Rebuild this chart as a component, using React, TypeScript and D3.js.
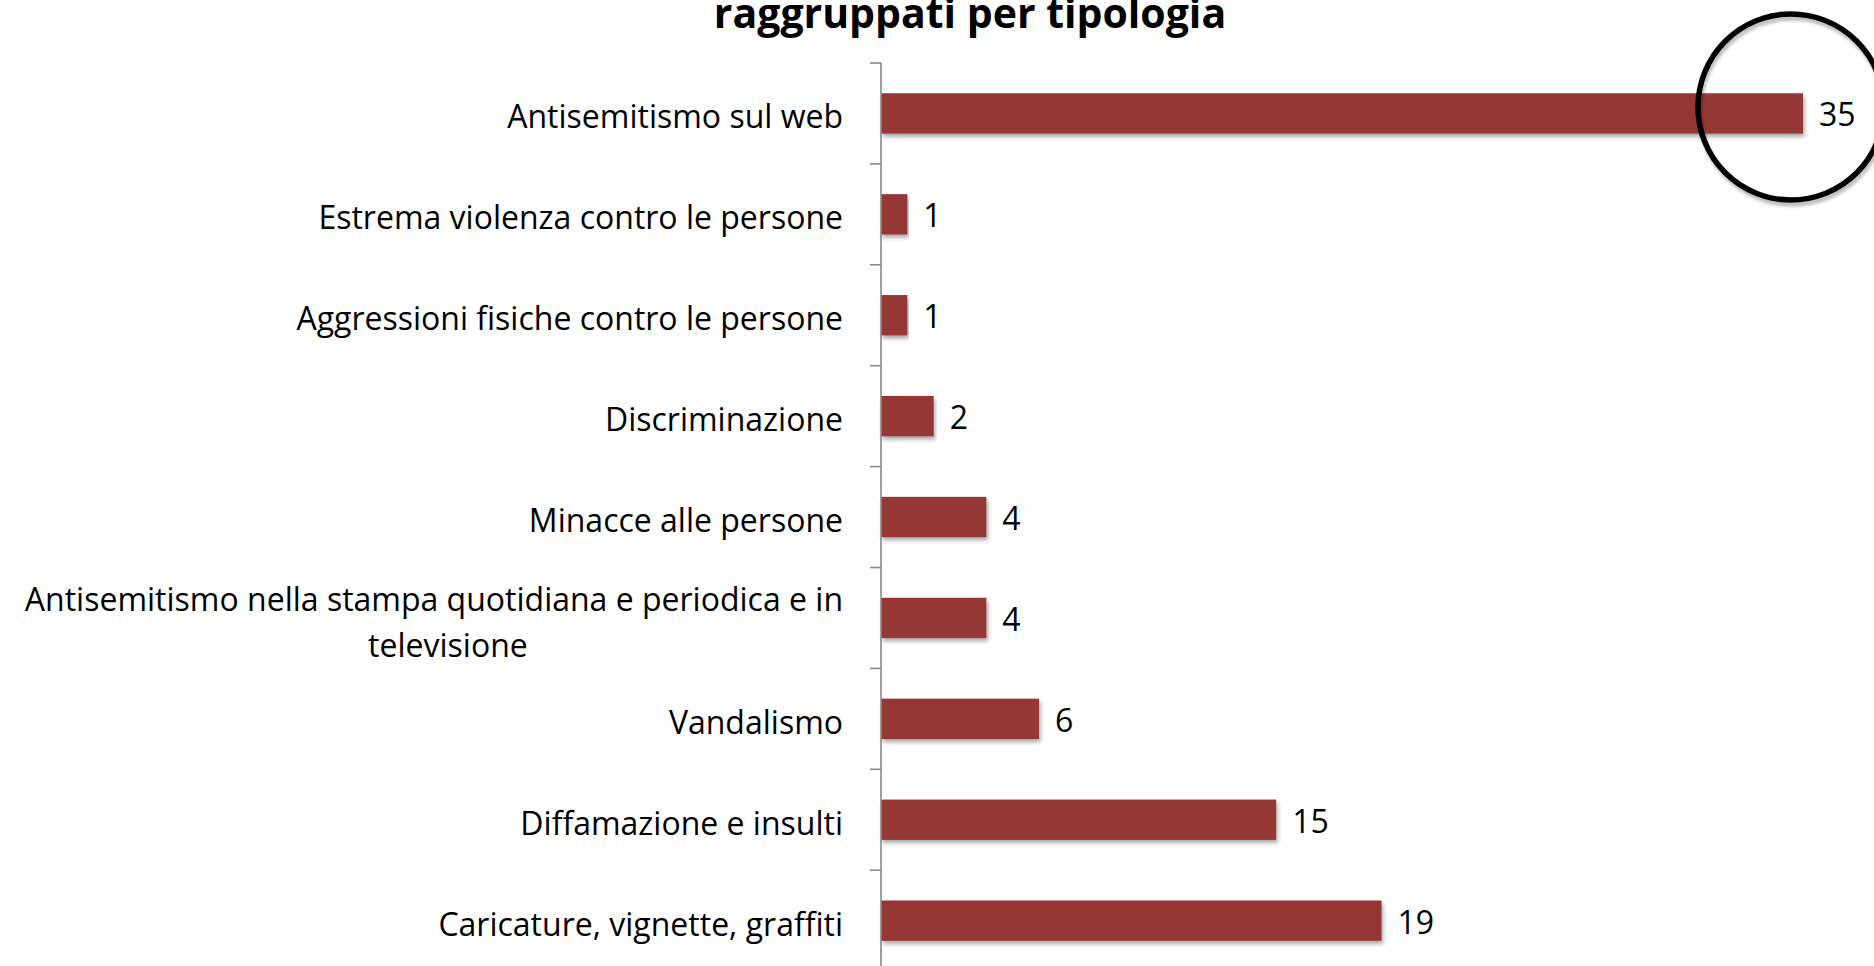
import React, { useEffect, useRef } from 'react';
import * as d3 from 'd3';

const categories = [
  'Antisemitismo sul web',
  'Estrema violenza contro le persone',
  'Aggressioni fisiche contro le persone',
  'Discriminazione',
  'Minacce alle persone',
  'Antisemitismo nella stampa quotidiana e periodica e in|televisione',
  'Vandalismo',
  'Diffamazione e insulti',
  'Caricature, vignette, graffiti',
];
const values = [35, 1, 1, 2, 4, 4, 6, 15, 19];
const titleLine = 'raggruppati per tipologia';

const W = 1874;
const H = 966;

const App: React.FC = () => {
  const ref = useRef<SVGSVGElement | null>(null);

  useEffect(() => {
    if (!ref.current) return;
    const svg = d3.select(ref.current);
    svg.selectAll('*').remove();

    const axisX = 881;
    const font = "'Open Sans', sans-serif";

    const x = d3.scaleLinear().domain([0, 35]).range([axisX, 1803]);
    const y = d3
      .scaleBand<string>()
      .domain(categories)
      .range([63, 63 + 100.9 * categories.length])
      .paddingInner(0.6)
      .paddingOuter(0.3);

    const defs = svg.append('defs');
    const sh = defs
      .append('filter')
      .attr('id', 'barShadow')
      .attr('x', '-5%')
      .attr('y', '-30%')
      .attr('width', '110%')
      .attr('height', '170%');
    sh.append('feDropShadow')
      .attr('dx', 1.5)
      .attr('dy', 3)
      .attr('stdDeviation', 2.2)
      .attr('flood-color', '#000')
      .attr('flood-opacity', 0.35);

    const csh = defs
      .append('filter')
      .attr('id', 'circleShadow')
      .attr('x', '-20%')
      .attr('y', '-20%')
      .attr('width', '140%')
      .attr('height', '140%');
    csh.append('feDropShadow')
      .attr('dx', 1.5)
      .attr('dy', 4)
      .attr('stdDeviation', 1.5)
      .attr('flood-color', '#000')
      .attr('flood-opacity', 0.25);

    // title (second line, top clipped like the source)
    svg
      .append('text')
      .attr('x', 970)
      .attr('y', 28)
      .attr('text-anchor', 'middle')
      .attr('font-family', font)
      .attr('font-weight', 700)
      .attr('font-size', 41)
      .attr('fill', '#000')
      .text(titleLine);

    // bars
    svg
      .append('g')
      .selectAll('rect')
      .data(values)
      .enter()
      .append('rect')
      .attr('x', axisX)
      .attr('y', (d, i) => y(categories[i]) as number)
      .attr('width', (d) => x(d) - axisX)
      .attr('height', y.bandwidth())
      .attr('fill', '#953735')
      .attr('filter', 'url(#barShadow)');

    // axis line + ticks
    const step = y.step();
    const top = y.range()[0];
    const ax = svg.append('g').attr('stroke', '#8a8a8a').attr('stroke-width', 1.6);
    ax.append('line').attr('x1', axisX).attr('x2', axisX).attr('y1', top).attr('y2', H);
    ax.selectAll('line.tick')
      .data(d3.range(categories.length + 1))
      .enter()
      .append('line')
      .attr('class', 'tick')
      .attr('x1', axisX - 11)
      .attr('x2', axisX)
      .attr('y1', (i) => top + i * step)
      .attr('y2', (i) => top + i * step);

    // category labels
    const lab = svg
      .append('g')
      .attr('font-family', font)
      .attr('font-size', 32)
      .attr('fill', '#000');
    categories.forEach((c, i) => {
      const cy = (y(c) as number) + y.bandwidth() / 2;
      const lines = c.split('|');
      if (lines.length === 1) {
        lab
          .append('text')
          .attr('x', 843)
          .attr('y', cy + 15)
          .attr('text-anchor', 'end')
          .text(c);
      } else {
        const t1 = lab
          .append('text')
          .attr('x', 843)
          .attr('y', cy - 7)
          .attr('text-anchor', 'end')
          .text(lines[0]);
        const w1 = (t1.node() as SVGTextElement).getComputedTextLength();
        lab
          .append('text')
          .attr('x', 843 - w1 / 2 + 14)
          .attr('y', cy + 39)
          .attr('text-anchor', 'middle')
          .text(lines[1]);
      }
    });

    // value labels
    svg
      .append('g')
      .attr('font-family', font)
      .attr('font-size', 32)
      .attr('fill', '#000')
      .selectAll('text')
      .data(values)
      .enter()
      .append('text')
      .attr('x', (d) => x(d) + 16)
      .attr('y', (d, i) => (y(categories[i]) as number) + y.bandwidth() / 2 + 13)
      .text((d) => d);

    // highlight circle
    svg
      .append('circle')
      .attr('cx', 1791)
      .attr('cy', 107)
      .attr('r', 93)
      .attr('fill', 'none')
      .attr('stroke', '#000')
      .attr('stroke-width', 5.5)
      .attr('filter', 'url(#circleShadow)');
  }, []);

  return (
    <svg
      ref={ref}
      width={W}
      height={H}
      style={{ position: 'absolute', left: 0, top: 0, background: '#fff' }}
    />
  );
};

export default App;
